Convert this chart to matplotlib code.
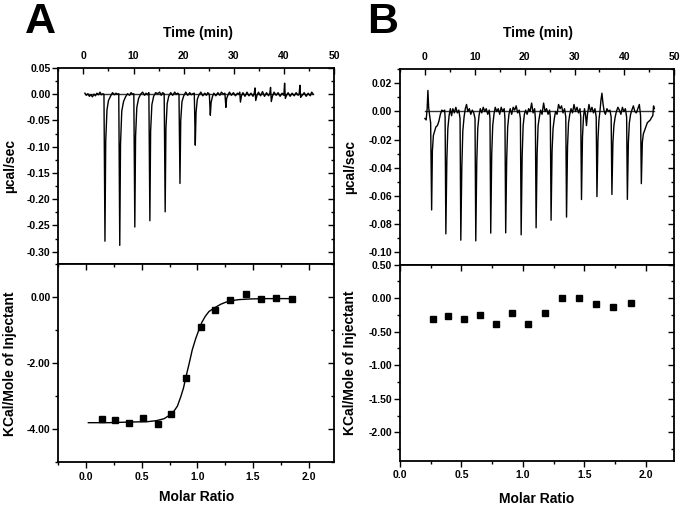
import matplotlib
matplotlib.use('Agg')
import matplotlib.pyplot as plt
from matplotlib.ticker import MultipleLocator, FuncFormatter

plt.rcParams['font.family'] = ['Liberation Sans', 'DejaVu Sans']
plt.rcParams['font.weight'] = 'bold'
plt.rcParams['axes.labelweight'] = 'bold'

# raw thermogram, panel A (time in min, ucal/sec)
trace_a = [
    (0.3, 0.002), (0.6, -0.002), (0.9, 0.001), (1.2, -0.004), (1.5, -0.001), (1.8, -0.005),
    (2.1, 0.000), (2.4, -0.003), (2.7, 0.002), (3.0, -0.001), (3.3, 0.004), (3.6, -0.001), (3.9, 0.001),
    (4.1, 0.000), (4.3, -0.280), (4.45, -0.090), (4.7, -0.030), (5.0, -0.012), (5.4, -0.004),
    (5.8, 0.003), (6.2, -0.001), (6.5, 0.002), (6.8, 0.000),
    (7.05, 0.001), (7.25, -0.288), (7.4, -0.095), (7.65, -0.032), (8.0, -0.014), (8.4, -0.005),
    (8.8, 0.001), (9.2, -0.002), (9.5, 0.003), (9.8, 0.000),
    (10.05, 0.001), (10.25, -0.253), (10.4, -0.080), (10.65, -0.025), (11.0, -0.008), (11.4, 0.000),
    (11.8, 0.004), (12.2, -0.002), (12.5, 0.002), (12.8, -0.001),
    (13.05, 0.003), (13.25, -0.241), (13.4, -0.070), (13.65, -0.020), (14.0, -0.004), (14.4, 0.003),
    (14.8, 0.001), (15.2, 0.004), (15.5, -0.002), (15.8, 0.003),
    (16.1, 0.001), (16.3, -0.224), (16.45, -0.065), (16.7, -0.018), (17.0, -0.004), (17.4, 0.003),
    (17.8, -0.002), (18.2, 0.004), (18.5, 0.000), (18.8, 0.002),
    (19.05, 0.000), (19.25, -0.170), (19.4, -0.050), (19.65, -0.014), (20.0, -0.003), (20.4, 0.004),
    (20.8, -0.002), (21.2, 0.003), (21.5, -0.001), (21.8, 0.001),
    (22.1, 0.002), (22.3, -0.097), (22.45, -0.035), (22.7, -0.010), (23.0, -0.002), (23.4, 0.004),
    (23.8, -0.003), (24.2, 0.002), (24.5, -0.002), (24.8, 0.003),
    (25.1, 0.000), (25.3, -0.040), (25.45, -0.016), (25.7, -0.005), (26.0, 0.002), (26.4, -0.003),
    (26.8, 0.003), (27.2, -0.002), (27.5, 0.004), (27.9, 0.000),
    (28.2, 0.002), (28.4, -0.025), (28.55, -0.008), (28.8, -0.002), (29.1, 0.004), (29.5, -0.002),
    (29.9, 0.003), (30.3, -0.003), (30.7, 0.002), (31.0, 0.000),
    (31.15, 0.004), (31.3, -0.015), (31.5, -0.003), (31.8, 0.003), (32.2, -0.004), (32.6, 0.004),
    (33.0, -0.003), (33.4, 0.002), (33.8, -0.004), (34.05, 0.002),
    (34.2, 0.012), (34.35, -0.012), (34.6, -0.002), (34.9, 0.004), (35.3, -0.003), (35.7, 0.005),
    (36.1, -0.004), (36.5, 0.003), (36.9, -0.003), (37.15, 0.002),
    (37.3, 0.013), (37.45, -0.014), (37.7, -0.003), (38.0, 0.004), (38.4, -0.002), (38.8, 0.003),
    (39.2, -0.004), (39.6, 0.002), (39.95, -0.002),
    (40.1, 0.021), (40.25, -0.008), (40.5, -0.002), (40.8, 0.003), (41.2, -0.004), (41.6, 0.002),
    (42.0, -0.003), (42.4, 0.003), (42.8, -0.002), (43.0, 0.001),
    (43.15, 0.017), (43.3, -0.006), (43.6, -0.002), (44.0, 0.003), (44.4, -0.004), (44.8, 0.002),
    (45.2, -0.003), (45.5, 0.004), (45.8, 0.000),
]

# raw thermogram, panel B
trace_b = [
    (0.0, -0.005), (0.25, -0.006), (0.45, 0.002), (0.6, 0.015), (0.75, 0.003), (0.95, -0.003), (1.15, -0.008),
    (1.35, -0.070), (1.5, -0.028), (1.7, -0.017), (1.95, -0.014), (2.2, -0.011), (2.5, -0.010),
    (2.8, -0.007), (3.1, -0.002), (3.4, 0.001), (3.7, 0.000), (3.95, 0.001), (4.05, -0.004),
    (4.2, -0.087), (4.4, -0.034), (4.6, -0.012), (4.85, -0.003), (5.1, 0.002), (5.35, -0.003),
    (5.6, 0.002), (5.9, -0.001), (6.2, 0.003), (6.5, -0.001), (6.8, 0.001), (7.05, -0.005),
    (7.2, -0.0915), (7.4, -0.040), (7.6, -0.014), (7.85, -0.004), (8.1, 0.002), (8.35, 0.005),
    (8.6, 0.000), (8.9, 0.002), (9.2, -0.002), (9.5, 0.001), (9.8, -0.001), (10.05, -0.005),
    (10.2, -0.092), (10.4, -0.036), (10.6, -0.012), (10.85, -0.003), (11.1, 0.002), (11.4, -0.001),
    (11.7, 0.003), (12.0, 0.000), (12.3, 0.002), (12.6, -0.002), (12.9, 0.001), (13.05, -0.005),
    (13.2, -0.0865), (13.4, -0.030), (13.6, -0.010), (13.85, -0.002), (14.1, 0.003), (14.4, 0.000),
    (14.7, 0.002), (15.0, -0.002), (15.3, 0.003), (15.6, 0.000), (15.9, 0.002), (16.05, -0.005),
    (16.2, -0.0863), (16.4, -0.034), (16.6, -0.011), (16.85, -0.002), (17.1, 0.002), (17.4, -0.002),
    (17.7, 0.003), (18.0, 0.001), (18.3, 0.004), (18.6, -0.001), (18.9, 0.001), (19.15, -0.005),
    (19.3, -0.0877), (19.5, -0.032), (19.7, -0.010), (19.95, -0.002), (20.2, 0.001), (20.5, -0.002),
    (20.8, 0.002), (21.1, 0.000), (21.4, 0.006), (21.7, -0.001), (22.0, 0.002), (22.15, -0.005),
    (22.3, -0.0827), (22.5, -0.030), (22.7, -0.010), (22.95, -0.004), (23.2, 0.001), (23.5, -0.002),
    (23.8, 0.006), (24.1, 0.000), (24.4, 0.002), (24.7, -0.002), (25.0, 0.001), (25.15, -0.004),
    (25.3, -0.0773), (25.5, -0.028), (25.7, -0.012), (25.95, -0.005), (26.2, 0.000), (26.5, -0.002),
    (26.8, 0.005), (27.1, 0.002), (27.4, 0.004), (27.7, -0.001), (28.0, 0.002), (28.25, -0.004),
    (28.4, -0.0751), (28.6, -0.025), (28.8, -0.008), (29.05, -0.002), (29.3, 0.002), (29.6, -0.001),
    (29.9, 0.005), (30.2, 0.000), (30.5, 0.003), (30.8, -0.001), (31.1, 0.002), (31.25, -0.004),
    (31.4, -0.0626), (31.6, -0.018), (31.8, -0.004), (32.0, 0.002), (32.2, -0.002), (32.4, -0.010),
    (32.6, -0.002), (32.9, 0.005), (33.2, 0.000), (33.5, 0.003), (33.8, -0.001), (34.1, 0.002), (34.35, -0.004),
    (34.5, -0.0605), (34.7, -0.020), (34.9, -0.006), (35.1, 0.000), (35.3, 0.008), (35.5, 0.013),
    (35.7, 0.006), (35.95, 0.000), (36.2, -0.002), (36.5, 0.002), (36.8, 0.000), (37.1, 0.001), (37.35, -0.004),
    (37.5, -0.059), (37.7, -0.022), (37.9, -0.010), (38.15, -0.004), (38.4, 0.000), (38.7, 0.003),
    (39.0, 0.001), (39.3, -0.002), (39.6, 0.003), (39.9, 0.000), (40.2, 0.002), (40.45, -0.004),
    (40.6, -0.0625), (40.8, -0.022), (41.0, -0.008), (41.25, -0.002), (41.5, 0.001), (41.8, 0.004),
    (42.1, 0.000), (42.4, -0.001), (42.7, 0.002), (43.0, 0.005), (43.25, -0.003),
    (43.4, -0.0513), (43.6, -0.022), (43.8, -0.016), (44.0, -0.014), (44.3, -0.011), (44.6, -0.008),
    (44.9, -0.007), (45.2, -0.006), (45.5, -0.004), (45.7, -0.003), (45.85, 0.004), (46.0, 0.002),
]

# integrated heats
ratio_a = [0.141, 0.263, 0.389, 0.515, 0.643, 0.766, 0.898, 1.029, 1.161, 1.296, 1.433, 1.571, 1.706, 1.846]
heat_a = [-3.70, -3.72, -3.82, -3.66, -3.85, -3.53, -2.44, -0.89, -0.37, -0.07, 0.11, -0.05, -0.02, -0.06]

fit_a = [
    (0.02, -3.80), (0.2, -3.80), (0.4, -3.78), (0.55, -3.77), (0.63, -3.74), (0.70, -3.68),
    (0.775, -3.52), (0.82, -3.30), (0.85, -3.02), (0.875, -2.75), (0.895, -2.44), (0.925, -2.02),
    (0.954, -1.59), (0.985, -1.25), (1.014, -0.98), (1.04, -0.76), (1.07, -0.58), (1.104, -0.43),
    (1.164, -0.30), (1.21, -0.21), (1.254, -0.15), (1.31, -0.10), (1.373, -0.07), (1.48, -0.05),
    (1.613, -0.04), (1.852, -0.04),
]

ratio_b = [0.266, 0.394, 0.522, 0.650, 0.777, 0.910, 1.044, 1.183, 1.316, 1.452, 1.593, 1.734, 1.876]
heat_b = [-0.313, -0.264, -0.318, -0.254, -0.384, -0.215, -0.384, -0.224, 0.0, -0.005, -0.095, -0.134, -0.080]

fig = plt.figure(figsize=(6.85, 5.07), dpi=100)

LW = 1.3
TICK = dict(width=1.0, labelsize=7.5)
fmt2 = FuncFormatter(lambda v, p: '%.2f' % (round(v, 6) + 0.0))
fmt1 = FuncFormatter(lambda v, p: '%.1f' % (round(v, 6) + 0.0))


def add_mirror(ax, ymaj, ymin):
    # right side ticks point inward, left side outward
    tw = ax.twinx()
    tw.set_ylim(ax.get_ylim())
    tw.yaxis.set_major_locator(MultipleLocator(ymaj))
    tw.yaxis.set_minor_locator(MultipleLocator(ymin))
    tw.tick_params(axis='y', which='both', direction='in', labelright=False, width=1.0)
    tw.tick_params(axis='y', which='major', length=4)
    tw.tick_params(axis='y', which='minor', length=2.5)
    for s in tw.spines.values():
        s.set_visible(False)
    return tw


def style_y(ax, ymaj, ymin):
    ax.yaxis.set_major_locator(MultipleLocator(ymaj))
    ax.yaxis.set_minor_locator(MultipleLocator(ymin))
    ax.yaxis.set_major_formatter(fmt2)
    ax.tick_params(axis='y', which='both', direction='out', right=False, pad=1.5, **TICK)
    ax.tick_params(axis='y', which='major', length=4)
    ax.tick_params(axis='y', which='minor', length=2.5)
    for s in ax.spines.values():
        s.set_linewidth(LW)


def thermogram(rect, trace, ylim, ymaj, ymin):
    ax = fig.add_axes(rect)
    t = [p[0] for p in trace]
    y = [p[1] for p in trace]
    ax.plot([t[0], t[-1]], [0, 0], color='#333333', lw=1.0)
    ax.plot(t, y, color='black', lw=1.0)
    ax.set_xlim(-5, 50)
    ax.set_ylim(*ylim)
    style_y(ax, ymaj, ymin)
    ax.xaxis.tick_top()
    ax.xaxis.set_label_position('top')
    ax.xaxis.set_major_locator(MultipleLocator(10))
    ax.xaxis.set_minor_locator(MultipleLocator(5))
    ax.tick_params(axis='x', which='both', direction='in', top=True, bottom=False, pad=5, **TICK)
    ax.tick_params(axis='x', which='major', length=4)
    ax.tick_params(axis='x', which='minor', length=2.5)
    ax.set_xlabel('Time (min)', fontsize=10)
    ax.set_ylabel('\u00b5cal/sec', fontsize=10)
    add_mirror(ax, ymaj, ymin)
    return ax


def heats(rect, xs, ys, xlim, ylim, ymaj, ymin, fit=None):
    ax = fig.add_axes(rect)
    if fit is not None:
        ax.plot([p[0] for p in fit], [p[1] for p in fit], color='black', lw=1.0)
    ax.plot(xs, ys, 's', color='black', ms=5)
    ax.set_xlim(*xlim)
    ax.set_ylim(*ylim)
    style_y(ax, ymaj, ymin)
    ax.xaxis.set_major_locator(MultipleLocator(0.5))
    ax.xaxis.set_minor_locator(MultipleLocator(0.25))
    ax.xaxis.set_major_formatter(fmt1)
    ax.tick_params(axis='x', which='both', direction='out', top=False, pad=3, **TICK)
    ax.tick_params(axis='x', which='major', length=4)
    ax.tick_params(axis='x', which='minor', length=2.5)
    ax.set_xlabel('Molar Ratio', fontsize=10)
    ax.set_ylabel('KCal/Mole of Injectant', fontsize=10)
    # top mirror ticks pointing inward
    tx = ax.twiny()
    tx.set_xlim(ax.get_xlim())
    tx.xaxis.set_major_locator(MultipleLocator(0.5))
    tx.xaxis.set_minor_locator(MultipleLocator(0.25))
    tx.tick_params(axis='x', which='both', direction='in', labeltop=False, width=1.0)
    tx.tick_params(axis='x', which='major', length=4)
    tx.tick_params(axis='x', which='minor', length=2.5)
    for s in tx.spines.values():
        s.set_visible(False)
    add_mirror(ax, ymaj, ymin)
    return ax


# panel A
axat = thermogram([0.0851, 0.4787, 0.4029, 0.3872], trace_a, (-0.324, 0.05), 0.05, 0.025)
axat.xaxis.set_label_coords(0.505, 1.158)
axat.yaxis.set_label_coords(-0.15, 0.5)
axa = heats([0.0851, 0.0882, 0.4029, 0.3905], ratio_a, heat_a, (-0.25, 2.23), (-5.0, 1.0), 2.0, 1.0, fit=fit_a)
axa.xaxis.set_label_coords(0.5, -0.14)
axa.yaxis.set_label_coords(-0.15, 0.5)

# panel B
axbt = thermogram([0.5839, 0.4783, 0.4004, 0.3850], trace_b, (-0.1088, 0.03), 0.02, 0.01)
axbt.xaxis.set_label_coords(0.505, 1.165)
axbt.yaxis.set_label_coords(-0.157, 0.5)
axb = heats([0.5839, 0.0913, 0.4004, 0.3870], ratio_b, heat_b, (0.0, 2.23), (-2.42, 0.5), 0.5, 0.25)
axb.xaxis.set_label_coords(0.5, -0.16)
axb.yaxis.set_label_coords(-0.157, 0.5)

fig.text(25 / 685, 1 - 33 / 507, 'A', fontsize=31, fontweight='bold', va='baseline', ha='left')
fig.text(367 / 685, 1 - 33 / 507, 'B', fontsize=31, fontweight='bold', va='baseline', ha='left')

fig.savefig('out.png', dpi=100)
